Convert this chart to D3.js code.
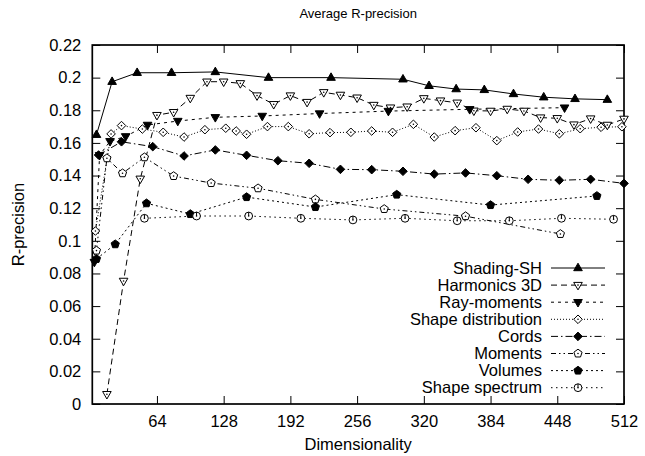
<!DOCTYPE html>
<html>
<head>
<meta charset="utf-8">
<script src="https://cdn.jsdelivr.net/npm/d3@7"></script>
<style>
  body { margin: 0; background: #fff; }
  svg { display: block; font-family: "Liberation Sans", Arial, Helvetica, sans-serif; }
</style>
</head>
<body>
<svg id="chart" width="645" height="456"></svg>
<script>
// dimensionality / R-precision per descriptor
const shadingDims = [6, 21, 45, 78, 120, 171, 231, 300, 325, 351, 378, 406, 435, 465, 496];
const shadingVals = [0.165, 0.1975, 0.203, 0.203, 0.2035, 0.2, 0.2, 0.199, 0.195, 0.193, 0.1925, 0.19, 0.188, 0.187, 0.1865];

const harmonicsDims = [16, 32, 48, 64, 80, 96, 112, 128, 144, 160, 176, 192, 208, 224, 240, 256,
  272, 288, 304, 320, 336, 352, 368, 384, 400, 416, 432, 448, 464, 480, 496, 512];
const harmonicsVals = [0.006, 0.0754, 0.138, 0.177, 0.1788, 0.1875, 0.1975, 0.1975, 0.1965, 0.189, 0.1837, 0.189,
  0.185, 0.191, 0.1894, 0.1877, 0.1832, 0.1816, 0.1822, 0.1873, 0.1859, 0.1846, 0.1797, 0.1796,
  0.1808, 0.1796, 0.1755, 0.1751, 0.1712, 0.1749, 0.171, 0.1747];

const rayDims = [4, 9, 19, 34, 55, 84, 120, 165, 220, 286, 364, 455];
const rayVals = [0.087, 0.1525, 0.161, 0.164, 0.171, 0.1734, 0.1757, 0.1765, 0.178, 0.1795, 0.1806, 0.1816];

const shapeDistDims = [5, 20, 30, 50, 70, 90, 110, 130, 140, 150, 170, 190, 210, 230, 250, 270, 290, 310,
  330, 350, 370, 390, 410, 430, 450, 470, 490, 510];
const shapeDistVals = [0.106, 0.1655, 0.1706, 0.1685, 0.1665, 0.1636, 0.1681, 0.169, 0.1673, 0.1653, 0.17, 0.17,
  0.1656, 0.1663, 0.1665, 0.1673, 0.1665, 0.1714, 0.1636, 0.1675, 0.1693, 0.1614, 0.1667, 0.1685,
  0.1656, 0.1687, 0.1696, 0.1699];

const cordsDims = [8, 30, 60, 90, 120, 150, 180, 210, 240, 270, 300, 330, 360, 390, 420, 450, 480, 512];
const cordsVals = [0.1526, 0.1607, 0.1577, 0.152, 0.1557, 0.1524, 0.1491, 0.1475, 0.1438, 0.1436, 0.1426,
  0.1409, 0.1416, 0.1399, 0.1377, 0.1371, 0.1377, 0.1352];

const momentsDims = [6, 16, 31, 52, 80, 116, 161, 216, 282, 360, 451];
const momentsVals = [0.094, 0.1506, 0.1414, 0.1512, 0.1397, 0.1354, 0.1322, 0.1254, 0.1195, 0.1151, 0.1042];

const volumesDims = [6, 24, 54, 96, 150, 216, 294, 384, 486];
const volumesVals = [0.0889, 0.0979, 0.123, 0.1164, 0.1268, 0.1207, 0.1283, 0.1219, 0.1275];

const spectrumDims = [52, 102, 152, 202, 252, 302, 352, 402, 452, 502];
const spectrumVals = [0.1138, 0.1152, 0.1152, 0.1138, 0.1128, 0.1138, 0.1123, 0.1123, 0.1138, 0.1132];

const xTicks = [64, 128, 192, 256, 320, 384, 448, 512];
const yTicks = [0, 0.02, 0.04, 0.06, 0.08, 0.1, 0.12, 0.14, 0.16, 0.18, 0.2, 0.22];

const series = [
  { name: "Shading-SH", dims: shadingDims, vals: shadingVals, dash: null, marker: "triUp", filled: true },
  { name: "Harmonics 3D", dims: harmonicsDims, vals: harmonicsVals, dash: "6,4", marker: "triDown", filled: false },
  { name: "Ray-moments", dims: rayDims, vals: rayVals, dash: "3,4", marker: "triDown", filled: true },
  { name: "Shape distribution", dims: shapeDistDims, vals: shapeDistVals, dash: "1,2", marker: "diamond", filled: false },
  { name: "Cords", dims: cordsDims, vals: cordsVals, dash: "7,3,1.5,3", marker: "diamond", filled: true },
  { name: "Moments", dims: momentsDims, vals: momentsVals, dash: "5,3,1.5,3,1.5,3", marker: "pentagon", filled: false },
  { name: "Volumes", dims: volumesDims, vals: volumesVals, dash: "2,3", marker: "pentagon", filled: true },
  { name: "Shape spectrum", dims: spectrumDims, vals: spectrumVals, dash: "1.5,3.5", marker: "circle", filled: false }
];

const fs = 16.5;
const svg = d3.select("#chart");
const plotL = 92.3, plotR = 624, plotT = 45, plotB = 404;

const x = d3.scaleLinear().domain([2, 512]).range([plotL, plotR]);
const y = d3.scaleLinear().domain([0, 0.22]).range([plotB, plotT]);

// marker shapes
function pentagonPath(r) {
  const pts = d3.range(5).map(k => {
    const a = -Math.PI / 2 + k * 2 * Math.PI / 5;
    return [r * Math.cos(a), r * Math.sin(a)];
  });
  return "M" + pts.map(p => p.join(",")).join("L") + "Z";
}
const markerPaths = {
  triUp: "M0,-4.8L4.3,2.7L-4.3,2.7Z",
  triDown: "M0,4.8L4.3,-2.7L-4.3,-2.7Z",
  diamond: "M0,-4.3L4.3,0L0,4.3L-4.3,0Z",
  pentagon: pentagonPath(4.3)
};

function drawMarker(g, s) {
  if (s.marker === "circle") {
    g.append("circle").attr("r", 3.9)
      .attr("fill", "#fff").attr("stroke", "#000").attr("stroke-width", 1);
    g.append("line").attr("x1", 0).attr("y1", 0).attr("x2", 0).attr("y2", -3.9)
      .attr("stroke", "#000").attr("stroke-width", 1);
  } else {
    g.append("path").attr("d", markerPaths[s.marker])
      .attr("fill", s.filled ? "#000" : "#fff")
      .attr("stroke", "#000").attr("stroke-width", 1);
  }
  if (!s.filled) {
    g.append("circle").attr("r", 0.8).attr("fill", "#000");
  }
}

// axes (gnuplot style: ticks inward on all sides)
const xAxis = svg.append("g")
  .attr("transform", `translate(0,${plotB})`)
  .call(d3.axisBottom(x).tickValues(xTicks).tickSize(-8).tickPadding(11));
const xTop = svg.append("g")
  .attr("transform", `translate(0,${plotT})`)
  .call(d3.axisTop(x).tickValues(xTicks).tickSize(-8).tickFormat(""));
const yAxis = svg.append("g")
  .attr("transform", `translate(${plotL},0)`)
  .call(d3.axisLeft(y).tickValues(yTicks).tickSize(-8).tickPadding(11)
    .tickFormat(d => d === 0 ? "0" : String(+d.toFixed(2))));
const yRight = svg.append("g")
  .attr("transform", `translate(${plotR},0)`)
  .call(d3.axisRight(y).tickValues(yTicks).tickSize(-8).tickFormat(""));

[xAxis, xTop, yAxis, yRight].forEach(a => {
  a.select(".domain").remove();
  a.selectAll(".tick line").attr("stroke", "#000").attr("stroke-width", 1);
  a.selectAll("text").attr("fill", "#000").style("font-size", fs + "px");
});

// plot border
svg.append("rect")
  .attr("x", plotL).attr("y", plotT)
  .attr("width", plotR - plotL).attr("height", plotB - plotT)
  .attr("fill", "none").attr("stroke", "#000").attr("stroke-width", 1.7);

// lines
const line = d3.line().x(d => x(d[0])).y(d => y(d[1]));
series.forEach(s => {
  const pts = s.dims.map((d, i) => [d, s.vals[i]]);
  svg.append("path")
    .datum(pts)
    .attr("d", line)
    .attr("fill", "none")
    .attr("stroke", "#000")
    .attr("stroke-width", 1)
    .attr("stroke-dasharray", s.dash);
});

// markers
series.forEach(s => {
  s.dims.forEach((d, i) => {
    const g = svg.append("g").attr("transform", `translate(${x(d)},${y(s.vals[i])})`);
    drawMarker(g, s);
  });
});

// legend
const legend = svg.append("g");
series.forEach((s, i) => {
  const ly = 268 + i * 17.1;
  legend.append("text")
    .attr("x", 542).attr("y", ly).attr("dy", "0.35em")
    .attr("text-anchor", "end")
    .style("font-size", fs + "px")
    .text(s.name);
  legend.append("line")
    .attr("x1", 551).attr("x2", 605).attr("y1", ly).attr("y2", ly)
    .attr("stroke", "#000").attr("stroke-width", 1)
    .attr("stroke-dasharray", s.dash);
  const g = legend.append("g").attr("transform", `translate(578,${ly})`);
  drawMarker(g, s);
});

// titles
svg.append("text")
  .attr("x", (plotL + plotR) / 2).attr("y", 18)
  .attr("text-anchor", "middle")
  .style("font-size", "13px")
  .text("Average R-precision");

svg.append("text")
  .attr("x", (plotL + plotR) / 2).attr("y", 450)
  .attr("text-anchor", "middle")
  .style("font-size", fs + "px")
  .text("Dimensionality");

svg.append("text")
  .attr("transform", `translate(24,${(plotT + plotB) / 2}) rotate(-90)`)
  .attr("text-anchor", "middle")
  .style("font-size", fs + "px")
  .text("R-precision");
</script>
</body>
</html>
